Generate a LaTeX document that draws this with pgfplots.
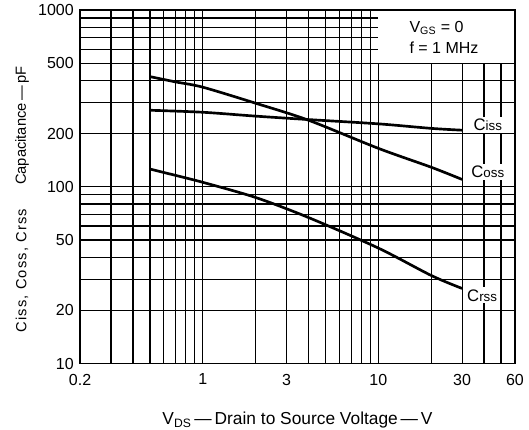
\documentclass[border=0pt]{standalone}
\usepackage{pgfplots}
\pgfplotsset{compat=1.18}
\usepackage{fontspec}
\setmainfont{Liberation Sans}

\begin{document}
\fontsize{10.5}{12}\selectfont
\begin{tikzpicture}
\begin{axis}[
  xmode=log, ymode=log,
  scale only axis, width=326pt, height=265pt,
  xmin=0.2, xmax=60, ymin=10, ymax=1000,
  clip=false,
  xtick={0.2,1,3,10,30,60}, xticklabels={0.2,1,3,10,30,60},
  minor xtick={0.3,0.4,0.5,0.6,0.7,0.8,0.9,2,4,5,6,7,8,9,20,40,50},
  ytick={10,20,50,100,200,500,1000}, yticklabels={10,20,50,100,200,500,1000},
  minor ytick={30,40,60,70,80,90,300,400,600,700,800,900},
  grid=both,
  major grid style={black, line width=0.9pt},
  minor grid style={black, line width=0.9pt},
  axis line style={black, line width=1pt},
  tick style={draw=none},
  ticklabel style={font=\fontsize{12}{14}\selectfont},
  xticklabel style={yshift=-4pt},
  yticklabel style={xshift=-1pt},
  xlabel={V\textsubscript{DS}\,—\,Drain to Source Voltage\,—\,V},
  xlabel style={yshift=-13pt, font=\fontsize{13}{15}\selectfont},
]
\fill[white] (axis cs:10,500) rectangle (axis cs:60,1000);
\draw[line width=1pt] (rel axis cs:0,0) rectangle (rel axis cs:1,1);

% Ciss
\addplot[black, line width=2pt, smooth] coordinates {
  (0.5,271) (1,264) (2,251) (4,240) (10,227) (20,214) (30,209)};
% Coss
\addplot[black, line width=2pt, smooth] coordinates {
  (0.5,420) (0.7,392) (1,366) (2,297) (4,238) (10,165) (20,129) (30,110)};
% Crss
\addplot[black, line width=2pt, smooth] coordinates {
  (0.5,126) (0.7,116) (1,106) (2,87) (4,67) (10,45) (20,31.5) (30,26.6)};

\node[fill=white, inner sep=1.5pt, font=\fontsize{12.5}{14}\selectfont] at (axis cs:42,223) {C{\fontsize{10}{12}\selectfont iss}};
\node[fill=white, inner sep=1.5pt, font=\fontsize{12.5}{14}\selectfont] at (axis cs:42,121) {C{\fontsize{10}{12}\selectfont oss}};
\node[fill=white, inner sep=1.5pt, font=\fontsize{12.5}{14}\selectfont] at (axis cs:39,24.3) {C{\fontsize{10}{12}\selectfont rss}};
\node[anchor=west, inner sep=0pt, font=\fontsize{12}{14}\selectfont] at (axis cs:15,790) {V\textsubscript{GS} = 0};
\node[anchor=west, inner sep=0pt, font=\fontsize{12}{14}\selectfont] at (axis cs:15,609) {f = 1 MHz};

\node[rotate=90, inner sep=0pt, font=\fontsize{11}{13}\selectfont] at (rel axis cs:-0.1333,0.673) {Capacitance\,—\,pF};
\node[rotate=90, inner sep=0pt, font=\fontsize{11}{13}\selectfont] at (rel axis cs:-0.1333,0.263) {\addfontfeature{LetterSpace=8}Ciss, Coss, Crss};

\coordinate (bl) at (rel axis cs:0,0);
\coordinate (tr) at (rel axis cs:1,1);
\end{axis}
\pgfresetboundingbox
\useasboundingbox ([xshift=-60pt, yshift=-49.5pt]bl) rectangle ([xshift=10.5pt, yshift=7.5pt]tr);
\end{tikzpicture}
\end{document}
